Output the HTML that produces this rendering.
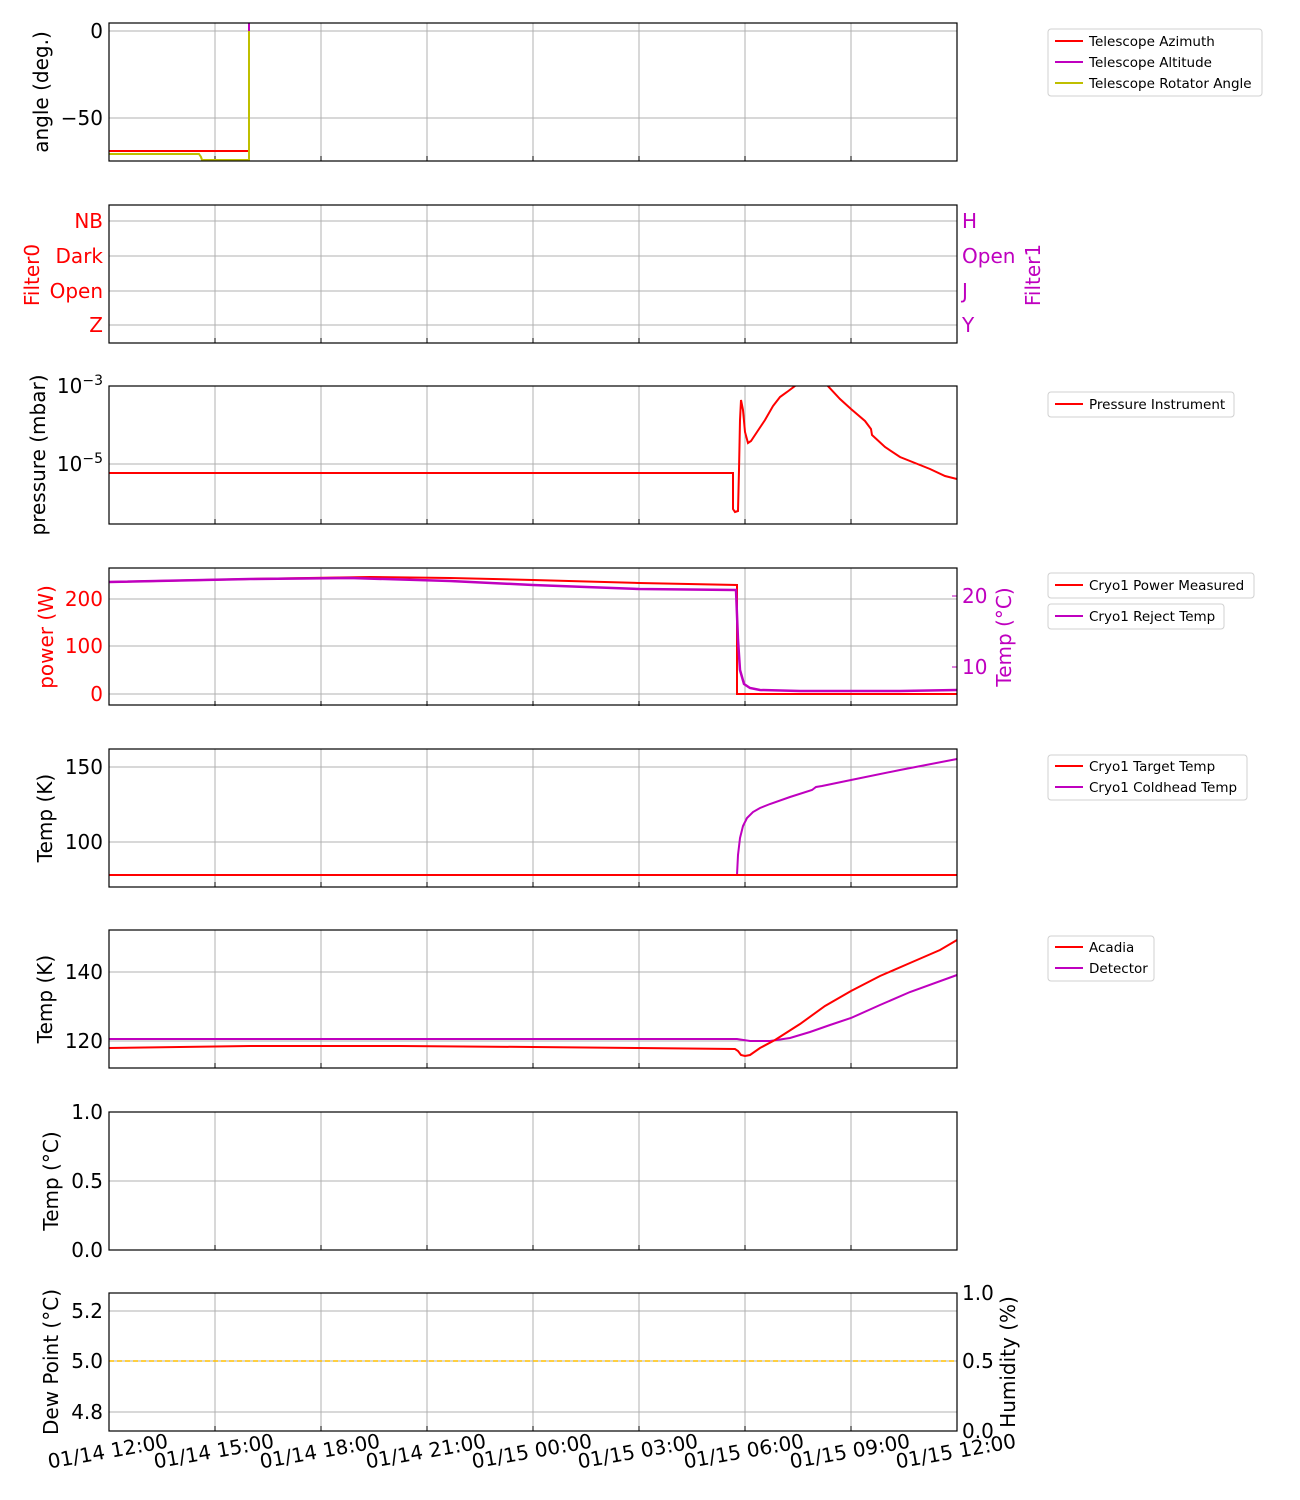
<!DOCTYPE html>
<html><head><meta charset="utf-8"><style>
body{margin:0;background:#fff;}
svg{display:block;font-family:"DejaVu Sans","Liberation Sans",sans-serif;}
.g{stroke:#b0b0b0;stroke-width:1;}
.ax{fill:none;stroke:#000;stroke-width:1.2;}
.t{font-size:20px;fill:#000;}
.lg{font-size:13.5px;fill:#000;}
.lb{fill:#fff;stroke:#d0d0d0;stroke-width:1;}
</style></head><body>
<svg width="1300" height="1500" viewBox="0 0 1300 1500">
<defs>
<g id="vg">
<line class="g" x1="215" x2="215" y1="0" y2="138"/><line class="g" x1="321" x2="321" y1="0" y2="138"/>
<line class="g" x1="427" x2="427" y1="0" y2="138"/><line class="g" x1="533" x2="533" y1="0" y2="138"/>
<line class="g" x1="639" x2="639" y1="0" y2="138"/><line class="g" x1="745" x2="745" y1="0" y2="138"/>
<line class="g" x1="851" x2="851" y1="0" y2="138"/>
<g stroke="#000" stroke-width="1">
<line x1="215" x2="215" y1="138" y2="133"/><line x1="321" x2="321" y1="138" y2="133"/><line x1="427" x2="427" y1="138" y2="133"/><line x1="533" x2="533" y1="138" y2="133"/><line x1="639" x2="639" y1="138" y2="133"/><line x1="745" x2="745" y1="138" y2="133"/><line x1="851" x2="851" y1="138" y2="133"/>
</g>
</g>
</defs>

<!-- Panel 1 -->
<g transform="translate(0,23)"><use href="#vg"/></g>
<line class="g" x1="109" x2="957" y1="31" y2="31"/><line class="g" x1="109" x2="957" y1="118" y2="118"/>
<polyline fill="none" stroke="#ff0000" stroke-width="2" points="109,151 249,151"/>
<polyline fill="none" stroke="#bfbf00" stroke-width="2" points="109,154 199,154 201,157 202,160 249,160 249,31"/>
<line x1="249" x2="249" y1="23" y2="31" stroke="#bf00bf" stroke-width="2"/>
<rect class="ax" x="109" y="23" width="848" height="138"/>
<text class="t" x="103" y="38" text-anchor="end">0</text>
<text class="t" x="103" y="125" text-anchor="end">−50</text>
<text class="t" transform="translate(48,92) rotate(-90)" text-anchor="middle">angle (deg.)</text>
<rect class="lb" x="1048" y="29" width="214" height="67" rx="3"/>
<line x1="1055" x2="1083" y1="41" y2="41" stroke="#ff0000" stroke-width="2"/><text class="lg" x="1089" y="46">Telescope Azimuth</text>
<line x1="1055" x2="1083" y1="62" y2="62" stroke="#bf00bf" stroke-width="2"/><text class="lg" x="1089" y="67">Telescope Altitude</text>
<line x1="1055" x2="1083" y1="83" y2="83" stroke="#bfbf00" stroke-width="2"/><text class="lg" x="1089" y="88">Telescope Rotator Angle</text>

<!-- Panel 2 -->
<g transform="translate(0,205)"><use href="#vg"/></g>
<line class="g" x1="109" x2="957" y1="221" y2="221"/><line class="g" x1="109" x2="957" y1="256" y2="256"/>
<line class="g" x1="109" x2="957" y1="291" y2="291"/><line class="g" x1="109" x2="957" y1="325" y2="325"/>
<rect class="ax" x="109" y="205" width="848" height="138"/>
<g class="t" style="fill:#ff0000" text-anchor="end">
<text x="103" y="228">NB</text><text x="103" y="263">Dark</text><text x="103" y="298">Open</text><text x="103" y="332">Z</text></g>
<g class="t" style="fill:#bf00bf">
<text x="962" y="228">H</text><text x="962" y="263">Open</text><text x="962" y="298">J</text><text x="962" y="332">Y</text></g>
<text class="t" style="fill:#ff0000" transform="translate(39,275) rotate(-90)" text-anchor="middle">Filter0</text>
<text class="t" style="fill:#bf00bf" transform="translate(1040,275) rotate(-90)" text-anchor="middle">Filter1</text>

<!-- Panel 3 -->
<g transform="translate(0,386)"><use href="#vg"/></g>
<line class="g" x1="109" x2="957" y1="464" y2="464"/>
<clipPath id="c3"><rect x="109" y="386" width="848" height="138"/></clipPath>
<polyline clip-path="url(#c3)" fill="none" stroke="#ff0000" stroke-width="2" points="109,473 733,473 733,509 735,512 738,511 739,470 740,420 741,400 743,410 745,432 748,443 751,441 757,432 765,420 773,406 780,397 787,392 795,386 805,378 815,375 826,384 840,399 851,409 865,421 871,429 872,435 885,447 900,457 915,463 930,469 945,476 957,479"/>
<rect class="ax" x="109" y="386" width="848" height="138"/>
<text class="t" x="103" y="393" text-anchor="end">10<tspan font-size="14" dy="-8">−3</tspan></text>
<text class="t" x="103" y="471" text-anchor="end">10<tspan font-size="14" dy="-8">−5</tspan></text>
<text class="t" transform="translate(45,455) rotate(-90)" text-anchor="middle">pressure (mbar)</text>
<rect class="lb" x="1048" y="392" width="186" height="25" rx="3"/>
<line x1="1055" x2="1083" y1="404" y2="404" stroke="#ff0000" stroke-width="2"/><text class="lg" x="1089" y="409">Pressure Instrument</text>

<!-- Panel 4 -->
<g transform="translate(0,568)"><use href="#vg"/></g>
<line class="g" x1="109" x2="957" y1="599" y2="599"/><line class="g" x1="109" x2="957" y1="646" y2="646"/><line class="g" x1="109" x2="957" y1="694" y2="694"/>
<polyline fill="none" stroke="#ff0000" stroke-width="2" points="109,582 250,579 370,577 450,578 533,580 639,583 737,585 737,694 957,694"/>
<polyline fill="none" stroke="#bf00bf" stroke-width="2.5" points="109,582 250,579 350,578 450,581 533,585 639,589 736,590 738,640 740,670 744,684 750,688 760,690 800,691 900,691 957,690"/>
<line x1="952" x2="957" y1="596" y2="596" stroke="#bf00bf"/><line x1="952" x2="957" y1="667" y2="667" stroke="#bf00bf"/>
<rect class="ax" x="109" y="568" width="848" height="137"/>
<g class="t" style="fill:#ff0000" text-anchor="end"><text x="103" y="606">200</text><text x="103" y="653">100</text><text x="103" y="701">0</text></g>
<g class="t" style="fill:#bf00bf"><text x="962" y="603">20</text><text x="962" y="674">10</text></g>
<text class="t" style="fill:#ff0000" transform="translate(53,637) rotate(-90)" text-anchor="middle">power (W)</text>
<text class="t" style="fill:#bf00bf" transform="translate(1011,637) rotate(-90)" text-anchor="middle">Temp (°C)</text>
<rect class="lb" x="1048" y="573" width="206" height="25" rx="3"/>
<line x1="1055" x2="1083" y1="585" y2="585" stroke="#ff0000" stroke-width="2"/><text class="lg" x="1089" y="590">Cryo1 Power Measured</text>
<rect class="lb" x="1048" y="604" width="176" height="25" rx="3"/>
<line x1="1055" x2="1083" y1="616" y2="616" stroke="#bf00bf" stroke-width="2"/><text class="lg" x="1089" y="621">Cryo1 Reject Temp</text>

<!-- Panel 5 -->
<g transform="translate(0,749)"><use href="#vg"/></g>
<line class="g" x1="109" x2="957" y1="767" y2="767"/><line class="g" x1="109" x2="957" y1="842" y2="842"/>
<polyline fill="none" stroke="#bf00bf" stroke-width="2" points="109,875 737,875 738,855 740,838 743,826 747,818 753,812 760,808 770,804 790,797 812,790 816,787 822,786 851,780 900,770 957,759"/>
<line x1="109" x2="957" y1="875" y2="875" stroke="#ff0000" stroke-width="2"/>
<rect class="ax" x="109" y="749" width="848" height="138"/>
<g class="t" text-anchor="end"><text x="103" y="774">150</text><text x="103" y="849">100</text></g>
<text class="t" transform="translate(52,818) rotate(-90)" text-anchor="middle">Temp (K)</text>
<rect class="lb" x="1048" y="755" width="199" height="45" rx="3"/>
<line x1="1055" x2="1083" y1="766" y2="766" stroke="#ff0000" stroke-width="2"/><text class="lg" x="1089" y="771">Cryo1 Target Temp</text>
<line x1="1055" x2="1083" y1="787" y2="787" stroke="#bf00bf" stroke-width="2"/><text class="lg" x="1089" y="792">Cryo1 Coldhead Temp</text>

<!-- Panel 6 -->
<g transform="translate(0,930)"><use href="#vg"/></g>
<line class="g" x1="109" x2="957" y1="972" y2="972"/><line class="g" x1="109" x2="957" y1="1041" y2="1041"/>
<polyline fill="none" stroke="#bf00bf" stroke-width="2" points="109,1039 737,1039 750,1041 770,1041 790,1038 810,1032 830,1025 851,1018 880,1005 910,992 957,975"/>
<polyline fill="none" stroke="#ff0000" stroke-width="2" points="109,1048 250,1046 400,1046 533,1047 639,1048 735,1049 738,1051 741,1055 745,1056 750,1055 760,1048 775,1040 800,1024 825,1006 851,991 880,976 910,963 940,950 957,940"/>
<rect class="ax" x="109" y="930" width="848" height="138"/>
<g class="t" text-anchor="end"><text x="103" y="979">140</text><text x="103" y="1048">120</text></g>
<text class="t" transform="translate(52,999) rotate(-90)" text-anchor="middle">Temp (K)</text>
<rect class="lb" x="1048" y="936" width="106" height="45" rx="3"/>
<line x1="1055" x2="1083" y1="947" y2="947" stroke="#ff0000" stroke-width="2"/><text class="lg" x="1089" y="952">Acadia</text>
<line x1="1055" x2="1083" y1="968" y2="968" stroke="#bf00bf" stroke-width="2"/><text class="lg" x="1089" y="973">Detector</text>

<!-- Panel 7 -->
<g transform="translate(0,1112)"><use href="#vg"/></g>
<line class="g" x1="109" x2="957" y1="1181" y2="1181"/>
<rect class="ax" x="109" y="1112" width="848" height="138"/>
<g class="t" text-anchor="end"><text x="103" y="1119">1.0</text><text x="103" y="1188">0.5</text><text x="103" y="1257">0.0</text></g>
<text class="t" transform="translate(58,1181) rotate(-90)" text-anchor="middle">Temp (°C)</text>

<!-- Panel 8 -->
<g transform="translate(0,1293)"><use href="#vg"/></g>
<line class="g" x1="109" x2="957" y1="1311" y2="1311"/><line class="g" x1="109" x2="957" y1="1361" y2="1361"/><line class="g" x1="109" x2="957" y1="1412" y2="1412"/>
<line x1="109" x2="957" y1="1361" y2="1361" stroke="#ffbf00" stroke-width="1.5" stroke-dasharray="5,3"/>
<rect class="ax" x="109" y="1293" width="848" height="138"/>
<g class="t" text-anchor="end"><text x="103" y="1318">5.2</text><text x="103" y="1368">5.0</text><text x="103" y="1419">4.8</text></g>
<g class="t"><text x="962" y="1300">1.0</text><text x="962" y="1368">0.5</text><text x="962" y="1438">0.0</text></g>
<text class="t" transform="translate(58,1362) rotate(-90)" text-anchor="middle">Dew Point (°C)</text>
<text class="t" transform="translate(1015,1362) rotate(-90)" text-anchor="middle">Humidity (%)</text>

<!-- x labels -->
<g class="t" text-anchor="middle">
<text transform="translate(109,1458) rotate(-10)">01/14 12:00</text>
<text transform="translate(215,1458) rotate(-10)">01/14 15:00</text>
<text transform="translate(321,1458) rotate(-10)">01/14 18:00</text>
<text transform="translate(427,1458) rotate(-10)">01/14 21:00</text>
<text transform="translate(533,1458) rotate(-10)">01/15 00:00</text>
<text transform="translate(639,1458) rotate(-10)">01/15 03:00</text>
<text transform="translate(745,1458) rotate(-10)">01/15 06:00</text>
<text transform="translate(851,1458) rotate(-10)">01/15 09:00</text>
<text transform="translate(957,1458) rotate(-10)">01/15 12:00</text>
</g>
</svg>
</body></html>
